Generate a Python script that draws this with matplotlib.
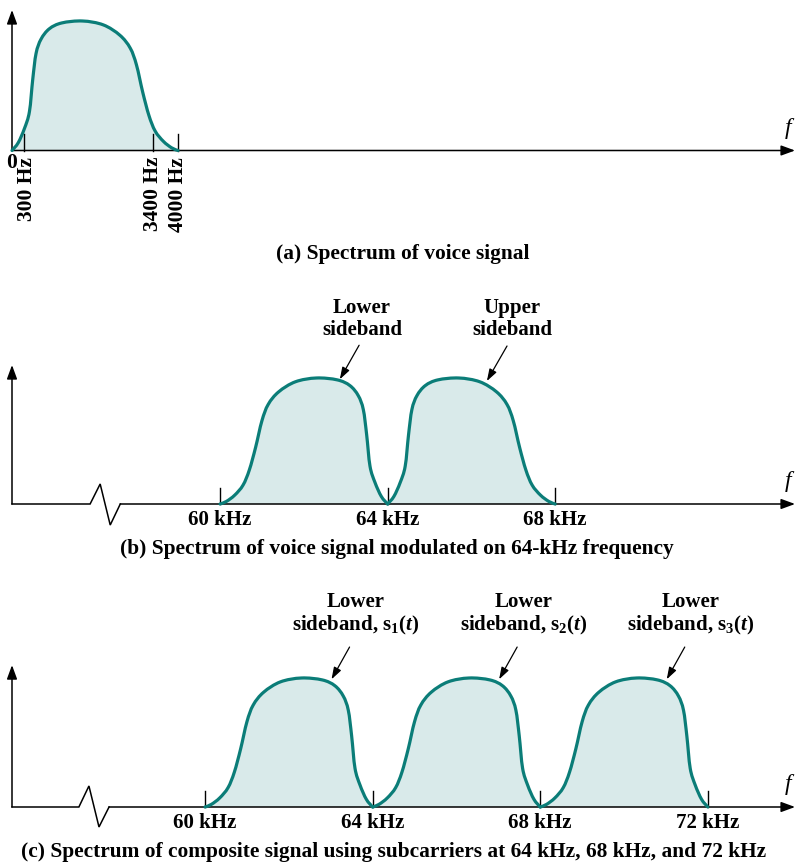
import numpy as np
import matplotlib
matplotlib.use('Agg')
import matplotlib.pyplot as plt
from matplotlib.path import Path
from matplotlib.patches import PathPatch

plt.rcParams['font.family'] = ['Liberation Serif', 'DejaVu Serif']
plt.rcParams['mathtext.fontset'] = 'custom'
plt.rcParams['mathtext.rm'] = 'Liberation Serif:bold'
plt.rcParams['mathtext.it'] = 'Liberation Serif:italic:bold'
plt.rcParams['mathtext.bf'] = 'Liberation Serif:bold'

# voice spectrum shape, amplitude relative to peak
voice_hz = [0, 150, 300, 420, 500, 580, 700, 900, 1200, 1700, 2200, 2600,
            2850, 3000, 3150, 3300, 3450, 3650, 3850, 4000]
voice_amp = [0, 0.06, 0.17, 0.30, 0.55, 0.75, 0.86, 0.94, 0.985, 1.0, 0.97,
             0.89, 0.79, 0.66, 0.45, 0.27, 0.15, 0.07, 0.02, 0]

a_ticks_hz = [300, 3400, 4000]
a_tick_labels = ['300 Hz', '3400 Hz', '4000 Hz']

b_carrier_khz = 64
b_ticks_khz = [60, 64, 68]
b_tick_labels = ['60 kHz', '64 kHz', '68 kHz']

c_carriers_khz = [64, 68, 72]
c_ticks_khz = [60, 64, 68, 72]
c_tick_labels = ['60 kHz', '64 kHz', '68 kHz', '72 kHz']
c_band_labels = ['Lower\nsideband, $\\mathrm{s}_{1}(t)$',
                 'Lower\nsideband, $\\mathrm{s}_{2}(t)$',
                 'Lower\nsideband, $\\mathrm{s}_{3}(t)$']

captions = ['(a) Spectrum of voice signal',
            '(b) Spectrum of voice signal modulated on 64-kHz frequency',
            '(c) Spectrum of composite signal using subcarriers at 64 kHz, 68 kHz, and 72 kHz']

LINE = '#0b7d78'
FILL = '#d9eaea'
FS = 15

W, H = 797, 865
fig = plt.figure(figsize=(W / 100, H / 100), dpi=100)


def panel(top, bottom, ref_px, ref_val, ppu, base_px, peak_px):
    # axes over the full width; ref_val sits at pixel column ref_px
    h = base_px - peak_px
    ax = fig.add_axes([0, 1 - bottom / H, 1, (bottom - top) / H])
    ax.set_xlim(ref_val - ref_px / ppu, ref_val + (W - ref_px) / ppu)
    ax.set_ylim((base_px - bottom) / h, (base_px - top) / h)
    ax.set_axis_off()
    return ax


def smooth(xs, ys):
    pts = np.column_stack([xs, ys]).astype(float)
    verts = [pts[0]]
    codes = [Path.MOVETO]
    n = len(pts)
    for i in range(n - 1):
        p0 = pts[i - 1] if i > 0 else pts[i]
        p1, p2 = pts[i], pts[i + 1]
        p3 = pts[i + 2] if i + 2 < n else pts[i + 1]
        c1 = p1 + (p2 - p0) / 6
        c2 = p2 - (p3 - p1) / 6
        c1[1] = max(c1[1], 0)
        c2[1] = max(c2[1], 0)
        verts += [c1, c2, p2]
        codes += [Path.CURVE4] * 3
    return verts, codes


def band(ax, xs, ys):
    order = np.argsort(xs)
    xs = np.asarray(xs)[order]
    ys = np.asarray(ys)[order]
    verts, codes = smooth(xs, ys)
    fill = Path(verts + [(xs[-1], 0), (xs[0], 0), (xs[0], 0)],
                codes + [Path.LINETO, Path.LINETO, Path.CLOSEPOLY])
    ax.add_patch(PathPatch(fill, facecolor=FILL, edgecolor='none', zorder=1))
    ax.add_patch(PathPatch(Path(verts, codes), facecolor='none', edgecolor=LINE,
                           lw=2.3, zorder=4, capstyle='round'))


def axes_lines(ax, x0, ytop, brk=None):
    xmax = ax.get_xlim()[1]
    tip = xmax - (xmax - x0) * 0.0025
    ap = dict(arrowstyle='-|>,head_length=0.6,head_width=0.22', lw=1.1,
              color='black', mutation_scale=14, shrinkA=0, shrinkB=0)
    ax.annotate('', xy=(x0, ytop), xytext=(x0, 0), arrowprops=ap, zorder=3)
    if brk is None:
        ax.annotate('', xy=(tip, 0), xytext=(x0, 0), arrowprops=ap, zorder=3)
    else:
        bx, by = brk
        ax.plot([x0] + bx, [0] + by, color='black', lw=1.1, zorder=3,
                solid_joinstyle='miter')
        ax.annotate('', xy=(tip, 0), xytext=(bx[-1], 0), arrowprops=ap, zorder=3)
    ax.annotate('f', xy=(tip, 0), xytext=(-5, 16), textcoords='offset points',
                ha='center', va='center', fontsize=17, style='italic')


def ticks(ax, xs, labels, height=0.125):
    for x, lab in zip(xs, labels):
        ax.plot([x, x], [0, height], color='black', lw=1.0, zorder=3)
        ax.annotate(lab, xy=(x, 0), xytext=(0, -11.5), textcoords='offset points',
                    ha='center', va='center', fontsize=FS, fontweight='bold')


def pointer(ax, text, txy, tail, tip):
    ax.text(txy[0], txy[1], text, ha='center', va='center', fontsize=FS,
            fontweight='bold', linespacing=1.1, multialignment='center')
    ax.annotate('', xy=tip, xytext=tail,
                arrowprops=dict(arrowstyle='-|>,head_length=0.6,head_width=0.2',
                                lw=0.9, color='black', mutation_scale=12,
                                shrinkA=0, shrinkB=0), zorder=5)


# ---- (a) voice signal
ax_a = panel(0, 270, 12, 0, 166 / 4000, 150.5, 21)
band(ax_a, voice_hz, voice_amp)
axes_lines(ax_a, 0, 1.085)
for x, lab in zip(a_ticks_hz, a_tick_labels):
    ax_a.plot([x, x], [0, 0.13], color='black', lw=1.0, zorder=3)
    dx = 1.8 if x == a_ticks_hz[0] else 0
    ax_a.annotate(lab, xy=(x, 0), xytext=(dx, -4.5), textcoords='offset points',
                  ha='center', va='top', rotation=90, fontsize=15.5,
                  fontweight='bold')
ax_a.annotate('0', xy=(0, 0), xytext=(-0.5, -9), textcoords='offset points',
              ha='center', va='center', fontsize=15.5, fontweight='bold')

# ---- (b) modulated on 64 kHz
PPK = 41.9  # pixels per kHz
ax_b = panel(270, 570, 220, 60, PPK, 504, 378)
lower_b = [b_carrier_khz - f / 1000 for f in voice_hz]
upper_b = [b_carrier_khz + f / 1000 for f in voice_hz]
band(ax_b, lower_b, voice_amp)
band(ax_b, upper_b, voice_amp)
x0_b = 60 - 208 / PPK
axes_lines(ax_b, x0_b, 1.103,
           brk=([56.90, 57.14, 57.38, 57.62], [0, 0.159, -0.167, 0]))
ticks(ax_b, b_ticks_khz, b_tick_labels)
pointer(ax_b, 'Lower\nsideband', (b_carrier_khz - 0.61, 1.47),
        (b_carrier_khz - 0.68, 1.26), (b_carrier_khz - 1.14, 0.99))
pointer(ax_b, 'Upper\nsideband', (b_carrier_khz + 2.97, 1.47),
        (b_carrier_khz + 2.85, 1.254), (b_carrier_khz + 2.37, 0.976))

# ---- (c) composite
ax_c = panel(570, 865, 205, 60, PPK, 807, 678)
for fc in c_carriers_khz:
    band(ax_c, [fc - f / 1000 for f in voice_hz], voice_amp)
x0_c = 60 - 193 / PPK
axes_lines(ax_c, x0_c, 1.10,
           brk=([56.99, 57.23, 57.47, 57.71], [0, 0.163, -0.155, 0]))
ticks(ax_c, c_ticks_khz, c_tick_labels)
for fc, lab in zip(c_carriers_khz, c_band_labels):
    pointer(ax_c, lab, (fc - 0.40, 1.49), (fc - 0.55, 1.24), (fc - 0.98, 0.99))

# ---- captions
for (x, y), cap in zip([(403, 254), (397, 549), (394, 852)], captions):
    fig.text(x / W, 1 - y / H, cap, ha='center', va='center', fontsize=15.4,
             fontweight='bold')

fig.savefig('out.png', dpi=100)
